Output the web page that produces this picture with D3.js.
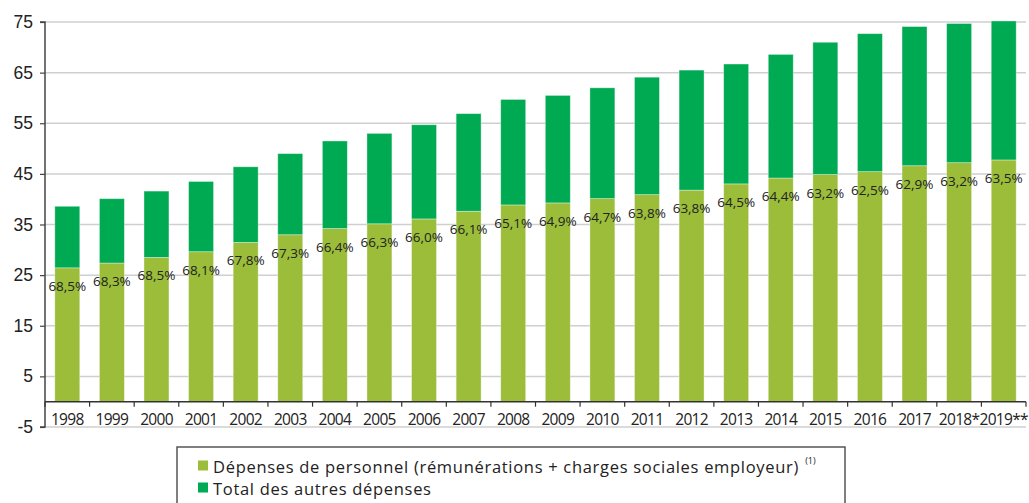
<!DOCTYPE html>
<html lang="fr">
<head>
<meta charset="utf-8">
<script src="https://cdn.jsdelivr.net/npm/d3@7"></script>
<style>
  html, body { margin: 0; padding: 0; background: #fff; }
  svg { display: block; font-family: "Open Sans", "DejaVu Sans", sans-serif; }
</style>
</head>
<body>
<svg id="chart" width="1029" height="503"></svg>
<script>
// Années (2018 : prévision *, 2019 : projet **)
const years = ["1998", "1999", "2000", "2001", "2002", "2003", "2004", "2005", "2006", "2007", "2008",
               "2009", "2010", "2011", "2012", "2013", "2014", "2015", "2016", "2017", "2018*", "2019**"];

// Dépenses totales (Md€)
const totals = [38.6, 40.1, 41.6, 43.5, 46.4, 49.0, 51.5, 53.0, 54.7, 56.9, 59.7,
                60.5, 62.0, 64.1, 65.5, 66.7, 68.6, 71.0, 72.7, 74.1, 74.7, 75.2];

// Part des dépenses de personnel dans le total (%)
const personnelShare = [68.5, 68.3, 68.5, 68.1, 67.8, 67.3, 66.4, 66.3, 66.0, 66.1, 65.1,
                        64.9, 64.7, 63.8, 63.8, 64.5, 64.4, 63.2, 62.5, 62.9, 63.2, 63.5];

const yTicks = [-5, 5, 15, 25, 35, 45, 55, 65, 75];

const seriesNames = [
  "Dépenses de personnel (rémunérations + charges sociales employeur)",
  "Total des autres dépenses"
];
const colors = ["#9bbd3a", "#00aa52"];

const rows = years.map((year, i) => {
  const personnel = totals[i] * personnelShare[i] / 100;
  return { year, personnel, autres: totals[i] - personnel, share: personnelShare[i] };
});

const svg = d3.select("#chart");
const plotLeft = 45, plotRight = 1026, plotTop = 22, plotBottom = 427;

const x = d3.scaleBand().domain(years).range([plotLeft, plotRight]).paddingInner(0.44).paddingOuter(0.22);
const xTick = d3.scaleBand().domain(years).range([plotLeft, plotRight]);
const y = d3.scaleLinear().domain([-5, 75]).range([plotBottom, plotTop]);

// Grille horizontale
svg.append("g")
  .selectAll("line")
  .data(yTicks)
  .join("line")
  .attr("x1", plotLeft).attr("x2", plotRight)
  .attr("y1", d => y(d)).attr("y2", d => y(d))
  .attr("stroke", "#cfcfcf")
  .attr("stroke-width", 1.5);

// Barres empilées
const stack = d3.stack().keys(["personnel", "autres"]);
const layers = stack(rows);

svg.append("g")
  .selectAll("g")
  .data(layers)
  .join("g")
  .attr("fill", (d, i) => colors[i])
  .selectAll("rect")
  .data(d => d)
  .join("rect")
  .attr("x", d => x(d.data.year))
  .attr("width", x.bandwidth())
  .attr("y", d => y(d[1]))
  .attr("height", d => y(d[0]) - y(d[1]))
  .attr("stroke", "rgba(255,255,255,0.45)")
  .attr("stroke-width", 0.8);

// Axe vertical
const yAxis = d3.axisLeft(y).tickValues(yTicks).tickSize(5).tickPadding(7);
const gy = svg.append("g").attr("transform", `translate(${plotLeft},0)`).call(yAxis);
gy.select(".domain").attr("stroke", "#444").attr("stroke-width", 1.5)
  .attr("d", `M-5,${y(75)}H0V${y(-5)}H-5`);
gy.selectAll(".tick line").attr("stroke", "#444").attr("stroke-width", 1.2);
gy.selectAll(".tick text").attr("fill", "#222").style("font-size", "17.5px")
  .text(d => d < 0 ? "-" + Math.abs(d) : d);

// Axe horizontal au niveau zéro
const gx = svg.append("g").attr("transform", `translate(0,${y(0)})`);
gx.append("line")
  .attr("x1", plotLeft).attr("x2", plotRight)
  .attr("stroke", "#333").attr("stroke-width", 1.5);
gx.selectAll("line.sep")
  .data(years.concat(["end"]))
  .join("line")
  .attr("class", "sep")
  .attr("x1", (d, i) => i < years.length ? xTick(d) : plotRight)
  .attr("x2", (d, i) => i < years.length ? xTick(d) : plotRight)
  .attr("y1", 0).attr("y2", 5)
  .attr("stroke", "#333").attr("stroke-width", 1.2);
gx.selectAll("text")
  .data(years)
  .join("text")
  .attr("x", d => xTick(d) + xTick.bandwidth() / 2)
  .attr("y", 17)
  .attr("text-anchor", "middle")
  .attr("dominant-baseline", "central")
  .attr("fill", "#222")
  .style("font-size", "15.5px")
  .style("letter-spacing", "-0.7px")
  .text(d => d);

// Étiquettes de part du personnel
svg.append("g")
  .selectAll("text")
  .data(rows)
  .join("text")
  .attr("x", d => x(d.year) + x.bandwidth() / 2)
  .attr("y", d => y(d.personnel) + 18)
  .attr("text-anchor", "middle")
  .attr("dominant-baseline", "central")
  .attr("fill", "#222")
  .style("font-size", "13.5px")
  .text(d => d3.format(".1f")(d.share).replace(".", ",") + "%");

// Légende
const legend = svg.append("g");
legend.append("rect")
  .attr("x", 177).attr("y", 447)
  .attr("width", 668).attr("height", 70)
  .attr("fill", "none")
  .attr("stroke", "#555").attr("stroke-width", 1.5);

const items = legend.selectAll("g.item")
  .data(seriesNames)
  .join("g")
  .attr("class", "item")
  .attr("transform", (d, i) => `translate(198,${465.5 + i * 22})`);
items.append("rect")
  .attr("x", 0).attr("y", -5)
  .attr("width", 10).attr("height", 10)
  .attr("fill", (d, i) => colors[i]);
const labels = items.append("text")
  .attr("x", 15)
  .attr("y", 0)
  .attr("dominant-baseline", "central")
  .attr("fill", "#222")
  .style("font-size", "16.5px")
  .style("letter-spacing", "0.7px");
labels.append("tspan").text(d => d);
labels.filter((d, i) => i === 0)
  .append("tspan")
  .attr("dx", 6).attr("dy", -6)
  .style("font-size", "9px")
  .style("letter-spacing", "0px")
  .text("(1)");
</script>
</body>
</html>
